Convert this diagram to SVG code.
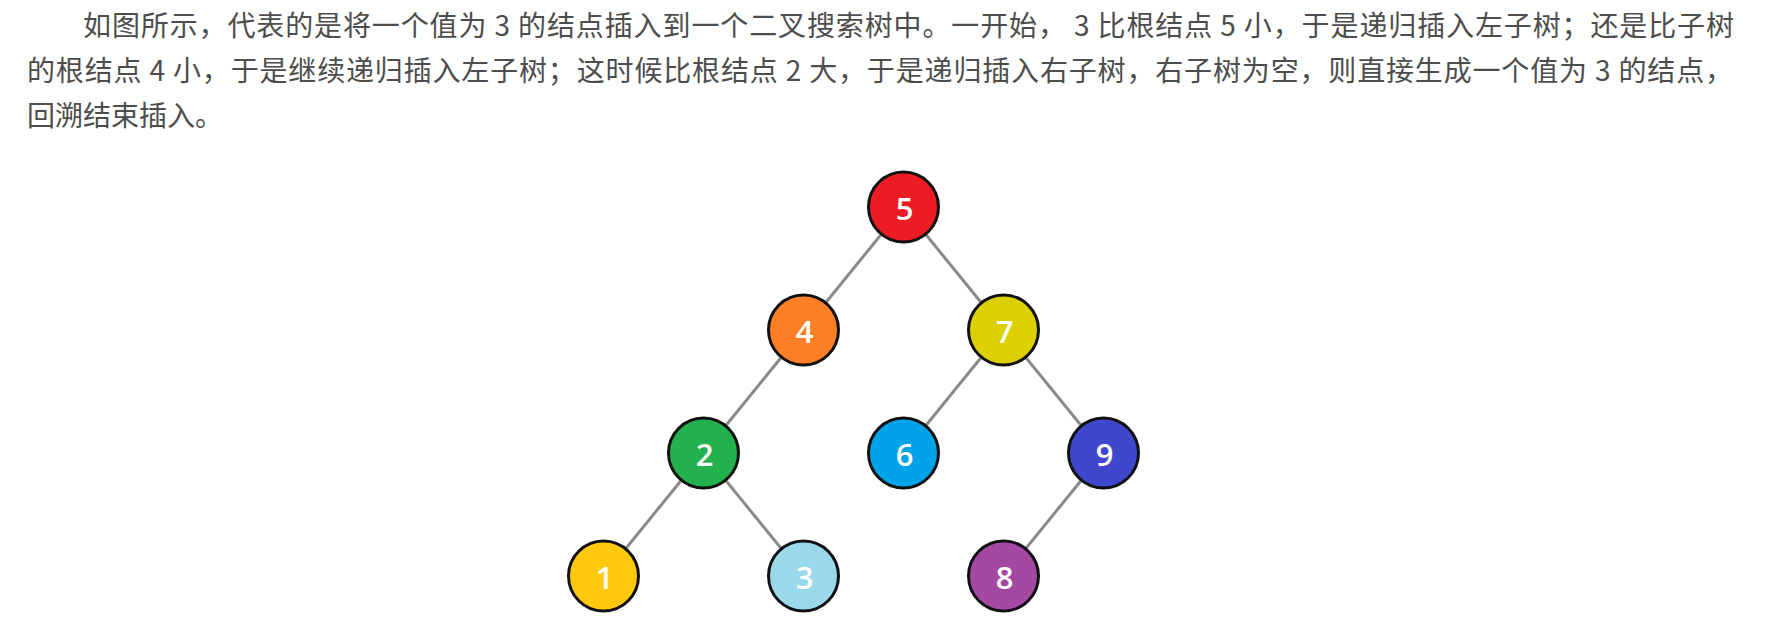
<svg xmlns="http://www.w3.org/2000/svg" width="1772" height="624" viewBox="0 0 1772 624">
<style>
.t{font-family:"Noto Sans CJK SC","Liberation Sans",sans-serif;font-size:28px;fill:#4d4d4d}
.n circle{stroke:#111;stroke-width:3}
.n text{font-family:"Open Sans","DejaVu Sans",sans-serif;font-weight:600;font-size:31px;fill:#fff;text-anchor:middle;dominant-baseline:central}
.e line{stroke:#8a8a8a;stroke-width:3}
</style>
<rect width="1772" height="624" fill="#fff"/>
<g id="text">
<text class="t" x="83" y="36" textLength="1651" lengthAdjust="spacing">如图所示，代表的是将一个值为 3 的结点插入到一个二叉搜索树中。一开始， 3 比根结点 5 小，于是递归插入左子树；还是比子树</text>
<text class="t" x="27" y="81" textLength="1706" lengthAdjust="spacing">的根结点 4 小，于是继续递归插入左子树；这时候比根结点 2 大，于是递归插入右子树，右子树为空，则直接生成一个值为 3 的结点，</text>
<text class="t" x="27" y="126">回溯结束插入。</text>
</g>
<g id="connectors" class="e">
<line x1="903.5" y1="207" x2="803.5" y2="330"/>
<line x1="903.5" y1="207" x2="1003.5" y2="330"/>
<line x1="803.5" y1="330" x2="703.5" y2="453"/>
<line x1="1003.5" y1="330" x2="903.5" y2="453"/>
<line x1="1003.5" y1="330" x2="1103.5" y2="453"/>
<line x1="703.5" y1="453" x2="603.5" y2="576"/>
<line x1="703.5" y1="453" x2="803.5" y2="576"/>
<line x1="1103.5" y1="453" x2="1003.5" y2="576"/>
</g>
<g id="node5" class="n"><circle cx="903.5" cy="207" r="35" fill="#ed1c24"/><text x="904.5" y="208">5</text></g>
<g id="node4" class="n"><circle cx="803.5" cy="330" r="35" fill="#ff7f27"/><text x="804.5" y="331">4</text></g>
<g id="node7" class="n"><circle cx="1003.5" cy="330" r="35" fill="#dcd000"/><text x="1004.5" y="331">7</text></g>
<g id="node2" class="n"><circle cx="703.5" cy="453" r="35" fill="#22b14c"/><text x="704.5" y="454">2</text></g>
<g id="node6" class="n"><circle cx="903.5" cy="453" r="35" fill="#00a2e8"/><text x="904.5" y="454">6</text></g>
<g id="node9" class="n"><circle cx="1103.5" cy="453" r="35" fill="#3f48cc"/><text x="1104.5" y="454">9</text></g>
<g id="node1" class="n"><circle cx="603.5" cy="576" r="35" fill="#ffc90e"/><text x="604.5" y="577">1</text></g>
<g id="node3" class="n"><circle cx="803.5" cy="576" r="35" fill="#99d9ea"/><text x="804.5" y="577">3</text></g>
<g id="node8" class="n"><circle cx="1003.5" cy="576" r="35" fill="#a349a4"/><text x="1004.5" y="577">8</text></g>
</svg>
